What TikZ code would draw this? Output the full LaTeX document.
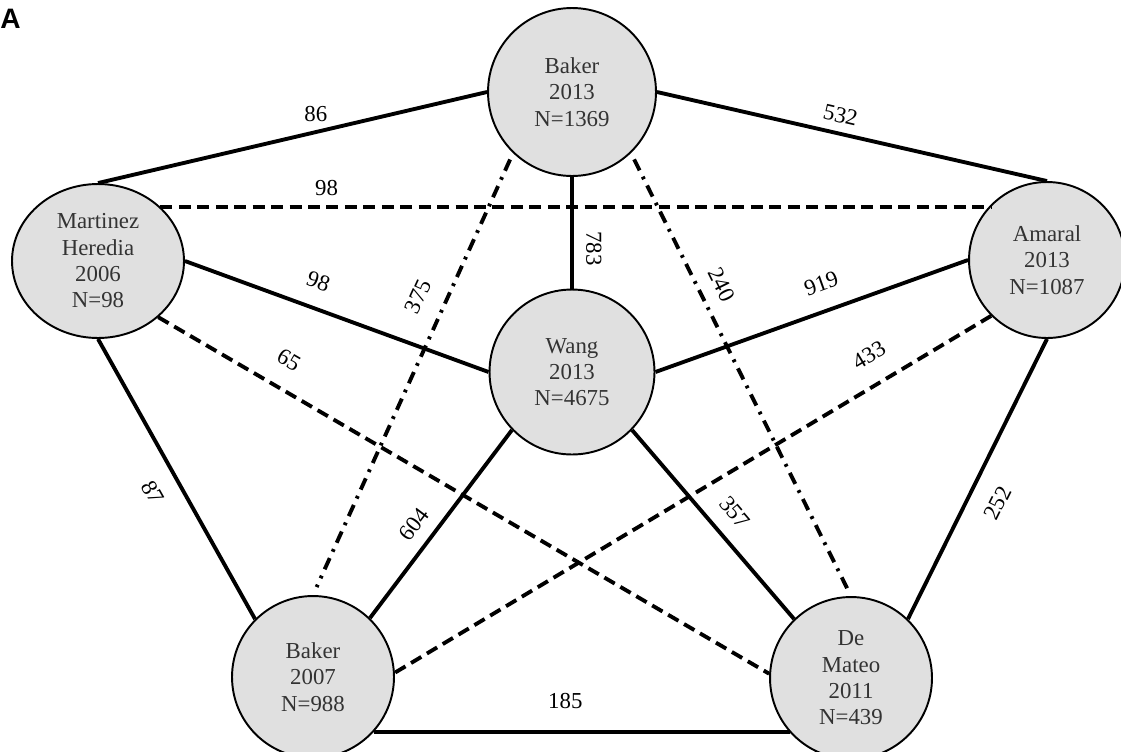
\documentclass[tikz,border=0pt]{standalone}
\usepackage{fontspec}
\setmainfont{Liberation Serif}
\newfontfamily\panelfont{Liberation Sans}
\usetikzlibrary{shapes.geometric}
\definecolor{studyfill}{RGB}{224,224,224}

\begin{document}
\begin{tikzpicture}[
    x=0.02cm, y=-0.02cm,
    study/.style={circle, draw, line width=1.1pt, fill=studyfill, text=black!80, align=center, inner sep=0pt, font=\fontsize{13}{15}\selectfont},
    wt/.style={font=\fontsize{13}{15}\selectfont, inner sep=5pt},
    link/.style={line width=2.2pt},
    dashlink/.style={line width=2.2pt, dash pattern=on 6.8pt off 3.7pt},
    dotlink/.style={line width=2.2pt, dash pattern=on 7pt off 4pt on 1.6pt off 4pt, shorten <=4pt, shorten >=5pt}
  ]
    \useasboundingbox (0,0) rectangle (1121,751);
    \node[anchor=west, inner sep=0pt, font=\panelfont\bfseries\fontsize{16}{16}\selectfont] (panel) at (0,19) {A};

    \node[study, minimum size=3.36cm] (baker13) at (572,92) {Baker\\2013\\N=1369};
    \node[study, ellipse, minimum width=3.44cm, minimum height=3.08cm] (martinez) at (98,261) {Martinez\\Heredia\\2006\\N=98};
    \node[study, minimum size=3.12cm] (amaral) at (1047,260) {Amaral\\2013\\N=1087};
    \node[study, minimum size=3.3cm] (wang) at (572,372) {Wang\\2013\\N=4675};
    \node[study, minimum size=3.24cm] (baker07) at (313,677) {Baker\\2007\\N=988};
    \node[study, minimum size=3.24cm] (demateo) at (851,678) {De\\Mateo\\2011\\N=439};

    \draw[link] (martinez.north) -- node[wt, pos=.56, above] {86} (baker13.west);
    \draw[link] (baker13.east) -- node[wt, pos=.46, sloped, above] {532} (amaral.north);
    \draw[dashlink] (martinez.41) -- node[wt, pos=.2, above] {98} (martinez.41 -| amaral.135);
    \draw[link] (martinez.east) -- node[wt, pos=.41, sloped, above=4.5pt] {98} (wang.west);
    \draw[dashlink] (martinez.-43) -- node[wt, pos=.19, sloped, above=6pt] {65} (demateo.177);
    \draw[link] (martinez.south) -- node[wt, pos=.5, sloped, below=5pt] {87} (baker07.135);
    \draw[link] (baker13.south) -- node[wt, pos=.64, rotate=-90, above=2pt] {783} (wang.north);
    \draw[dotlink] (baker13.226) -- node[wt, pos=.35, sloped, above=5pt] {375} (baker07.north);
    \draw[dotlink] (baker13.314) -- node[wt, pos=.32, sloped, above=2.5pt] {240} (demateo.north);
    \draw[link] (wang.east) -- node[wt, pos=.56, sloped, above=5pt] {919} (amaral.west);
    \draw[dashlink] (amaral.225) -- node[wt, pos=.18, sloped, above=6pt] {433} (baker07.3);
    \draw[link] (wang.224) -- node[wt, pos=.57, sloped, above=1.5pt] {604} (baker07.46);
    \draw[link] (wang.316) -- node[wt, pos=.52, sloped, above=3.5pt] {357} (demateo.134);
    \draw[link] (amaral.south) -- node[wt, pos=.54, sloped, below=6pt] {252} (demateo.46);
    \draw[link] (baker07.318) -- node[wt, pos=.46, above=7pt] {185} (baker07.318 -| demateo.222);
\end{tikzpicture}
\end{document}
